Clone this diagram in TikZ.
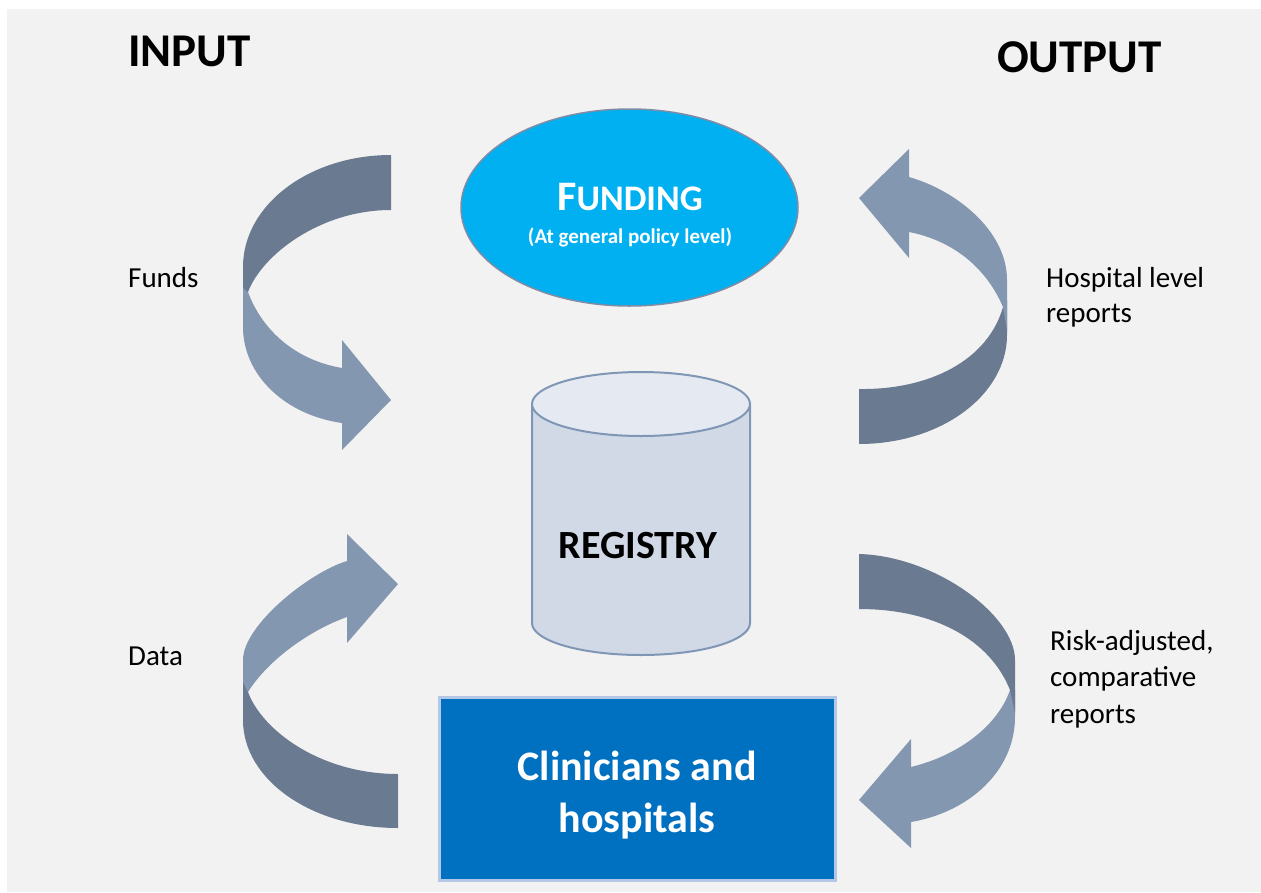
\documentclass[tikz,border=0pt]{standalone}
\usepackage{fontspec}
\setmainfont{Carlito}
\usetikzlibrary{shapes.geometric}
\definecolor{bg}{HTML}{F2F2F2}
\definecolor{arrdark}{HTML}{697A91}
\definecolor{arrlight}{HTML}{8497B0}
\definecolor{fundfill}{HTML}{00B0F0}
\definecolor{fundline}{HTML}{7F8CA6}
\definecolor{cylbody}{HTML}{D1D9E7}
\definecolor{cyltop}{HTML}{E4E9F2}
\definecolor{cylline}{HTML}{8096B5}
\definecolor{boxfill}{HTML}{0070C0}
\definecolor{boxline}{HTML}{B4C7E7}
\begin{document}
\begin{tikzpicture}[x=1pt,y=-1pt,
  darkpart/.style={fill=arrdark},
  lightpart/.style={fill=arrlight},
  lbl/.style={anchor=base west, inner sep=0pt, font=\fontsize{29}{35}\selectfont},
  heading/.style={anchor=base west, inner sep=0pt, font=\fontsize{47}{50}\selectfont\bfseries},
  wtext/.style={anchor=base, inner sep=0pt, text=white, font=\bfseries}
]
\useasboundingbox (0,0) rectangle (1261,892);
\fill[white] (0,0) rectangle (1261,892);
\fill[bg] (7,9) rectangle (1261,892);

% headings
\node[heading] (input) at (128,66) {INPUT};
\node[heading] (output) at (997,72) {OUTPUT};

% Funding ellipse
\node[ellipse, draw=fundline, line width=1.5pt, fill=fundfill, minimum width=337pt, minimum height=197pt, inner sep=0pt] (funding) at (629.5,207.5) {};
\node[wtext] (fundt) at (630,210) {{\fontsize{42}{44}\selectfont F}{\fontsize{36}{40}\selectfont UNDING}};
\node[wtext] (fundsub) at (630,243) {\fontsize{21}{25}\selectfont (At general policy level)};

% Registry cylinder
\coordinate (cylTL) at (532,404);
\coordinate (cylTR) at (750,404);
\coordinate (cylBL) at (532,623);
\coordinate (cylBR) at (750,623);
\filldraw[fill=cylbody, draw=cylline, line width=2pt, line join=round]
  (cylTL) -- (cylBL) .. controls (532,640.7) and (580.8,655) .. (641,655)
  .. controls (701.2,655) and (750,640.7) .. (cylBR) -- (cylTR) -- cycle;
\filldraw[fill=cyltop, draw=cylline, line width=2pt] (641,404) ellipse [x radius=109pt, y radius=32pt];
\node[anchor=base, inner sep=0pt, font=\fontsize{40}{44}\selectfont\bfseries] (registry) at (638,558) {REGISTRY};

% Clinicians box
\node[draw=boxline, line width=3pt, fill=boxfill, minimum width=396pt, minimum height=183pt, inner sep=0pt] (clin) at (637.5,789) {};
\node[wtext] (clin1) at (637,780) {\fontsize{42}{52}\selectfont Clinicians and};
\node[wtext] (clin2) at (637,832) {\fontsize{42}{52}\selectfont hospitals};

% Arrow 1: Funds (top-left)
\fill[lightpart] (243,265) -- (243,327) .. controls (243,375) and (285,415) .. (342,423)
  -- (342,450) -- (391,400) -- (342,340) -- (342,368)
  .. controls (295,360) and (262,330) .. (248,292) -- cycle;
\fill[darkpart] (391,155) .. controls (309,155) and (243,205) .. (243,267) -- (243,288) -- (248,292)
  .. controls (262,255) and (320,210) .. (391,210) -- cycle;

% Arrow 4: Data (bottom-left)
\fill[darkpart] (243,675) -- (243,720) .. controls (243,780) and (312,828) .. (398,828)
  -- (398,774) .. controls (320,774) and (262,730) .. (248,692) -- cycle;
\fill[lightpart] (347,561) .. controls (310,572) and (243,625) .. (243,660) -- (243,682) -- (248,692)
  .. controls (268,660) and (310,630) .. (347,617) -- (347,643) -- (398,584) -- (347,534) -- cycle;

% Arrow 2: Hospital level reports (top-right)
\fill[darkpart] (1007,300) -- (1007,335) .. controls (1007,395) and (941,444) .. (859,444)
  -- (859,389) .. controls (930,390) and (988,360) .. (1003,307) -- cycle;
\fill[lightpart] (909,177) .. controls (955,190) and (1007,230) .. (1007,280) -- (1007,330) -- (1003,307)
  .. controls (985,265) and (950,240) .. (909,232) -- (909,258) -- (859,198) -- (909,149) -- cycle;

% Arrow 3: Risk-adjusted reports (bottom-right)
\fill[lightpart] (1010,690) -- (1015,690) -- (1015,717) .. controls (1015,770) and (970,812) .. (911,822)
  -- (911,848) -- (859,800) -- (911,739) -- (911,767)
  .. controls (960,755) and (998,725) .. (1010,690) -- cycle;
\fill[darkpart] (859,554) .. controls (935,556) and (1015,615) .. (1015,660) -- (1015,712) -- (1010,690)
  .. controls (990,640) and (935,609) .. (859,609) -- cycle;

% labels
\node[lbl] (funds) at (128,287) {Funds};
\node[lbl] (data) at (128,665) {Data};
\node[lbl] (hosp1) at (1046,287) {Hospital level};
\node[lbl] (hosp2) at (1046,322) {reports};
\node[lbl] (risk1) at (1050,650) {Risk-adjusted,};
\node[lbl] (risk2) at (1050,686.5) {comparative};
\node[lbl] (risk3) at (1050,723) {reports};
\end{tikzpicture}
\end{document}
